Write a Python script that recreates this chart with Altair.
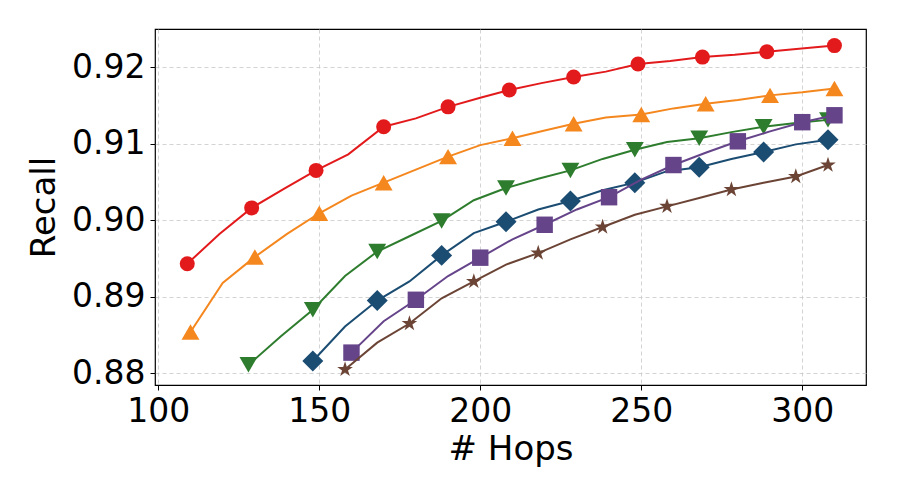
import altair as alt
import pandas as pd

# ---- data ----
names = ["S1", "S2", "S3", "S4", "S5", "S6"]
colors = ["#E31A1C", "#F5871F", "#2E7D2E", "#1B4C72", "#65448A", "#6B4436"]

star = ("M0,-1L0.2233,-0.3074L0.9511,-0.309L0.3614,0.1174L0.5878,0.809L0,0.38"
        "L-0.5878,0.809L-0.3614,0.1174L-0.9511,-0.309L-0.2233,-0.3074Z")
shapes = ["circle", "triangle-up", "triangle-down", "diamond", "square", star]
sizes = [225, 320, 320, 440, 270, 270]

hops_s1 = [109, 119, 129, 139, 149, 159, 170, 180, 190, 200, 209, 219, 229, 239, 249, 259, 269, 279, 289, 299, 310]
rec_s1 = [0.8943, 0.8982, 0.9016, 0.9041, 0.9065, 0.9086, 0.9122, 0.9133, 0.9148, 0.9160, 0.9170,
          0.9179, 0.9187, 0.9194, 0.9204, 0.9208, 0.9213, 0.9216, 0.9220, 0.9224, 0.9228]

hops_s2 = [110, 120, 130, 140, 150, 160, 170, 180, 190, 200, 210, 220, 229, 239, 250, 260, 270, 280, 290, 300, 310]
rec_s2 = [0.8854, 0.8918, 0.8952, 0.8982, 0.9009, 0.9032, 0.9049, 0.9066, 0.9083, 0.9098, 0.9107,
          0.9117, 0.9126, 0.9134, 0.9138, 0.9146, 0.9152, 0.9157, 0.9163, 0.9167, 0.9172]

hops_s3 = [128, 138, 148, 158, 168, 178, 188, 198, 208, 218, 228, 238, 248, 258, 268, 278, 288, 298, 308]
rec_s3 = [0.8811, 0.8848, 0.8883, 0.8927, 0.8959, 0.8979, 0.8999, 0.9026, 0.9042, 0.9054, 0.9065,
          0.9080, 0.9092, 0.9102, 0.9107, 0.9115, 0.9122, 0.9127, 0.9131]

hops_s4 = [148, 158, 168, 178, 188, 198, 208, 218, 228, 238, 248, 258, 268, 278, 288, 298, 308]
rec_s4 = [0.8816, 0.8861, 0.8895, 0.8920, 0.8954, 0.8983, 0.8998, 0.9014, 0.9025, 0.9039, 0.9049,
          0.9064, 0.9069, 0.9080, 0.9089, 0.9099, 0.9105]

hops_s5 = [160, 170, 180, 190, 200, 210, 220, 230, 240, 250, 260, 270, 280, 290, 300, 310]
rec_s5 = [0.8827, 0.8868, 0.8896, 0.8927, 0.8951, 0.8975, 0.8994, 0.9014, 0.9030, 0.9053, 0.9072,
          0.9088, 0.9103, 0.9116, 0.9128, 0.9137]

hops_s6 = [158, 168, 178, 188, 198, 208, 218, 228, 238, 248, 258, 268, 278, 288, 298, 308]
rec_s6 = [0.8805, 0.8840, 0.8865, 0.8898, 0.8920, 0.8942, 0.8957, 0.8975, 0.8991, 0.9007, 0.9018,
          0.9029, 0.9040, 0.9049, 0.9057, 0.9072]

x_ticks = [100, 150, 200, 250, 300]
y_ticks = [0.88, 0.89, 0.90, 0.91, 0.92]

all_hops = [hops_s1, hops_s2, hops_s3, hops_s4, hops_s5, hops_s6]
all_rec = [rec_s1, rec_s2, rec_s3, rec_s4, rec_s5, rec_s6]

rows = []
for name, hs, rs in zip(names, all_hops, all_rec):
    n = len(hs)
    for i, (h, r) in enumerate(zip(hs, rs)):
        rows.append({"series": name, "hops": h, "recall": r,
                     "marker": (i % 2 == 0) or (i == n - 1), "order": i})
df = pd.DataFrame(rows)

FONT = "DejaVu Sans"

x_enc = alt.X("hops:Q",
              scale=alt.Scale(domain=[98.98, 319.8], nice=False, zero=False),
              axis=alt.Axis(values=x_ticks, format="d", title="# Hops",
                            titleY=64, titleBaseline="middle"))
y_enc = alt.Y("recall:Q",
              scale=alt.Scale(domain=[0.87847, 0.92497], nice=False, zero=False),
              axis=alt.Axis(values=y_ticks, format=".2f", title="Recall",
                            titleX=-111, titleY=178, titleBaseline="middle", titleAngle=-90))
color_enc = alt.Color("series:N", scale=alt.Scale(domain=names, range=colors), legend=None)
shape_enc = alt.Shape("series:N", scale=alt.Scale(domain=names, range=shapes), legend=None)

base = alt.Chart(df)
layers = []
for name, sz in zip(names, sizes):
    line = base.transform_filter(alt.datum.series == name).mark_line(
        strokeWidth=2, clip=True
    ).encode(x=x_enc, y=y_enc, color=color_enc, order="order:Q")
    pts = base.transform_filter(
        (alt.datum.series == name) & alt.datum.marker
    ).mark_point(filled=True, opacity=1, size=sz, strokeWidth=0).encode(
        x=x_enc, y=y_enc, color=color_enc, shape=shape_enc
    )
    layers += [line, pts]

chart = alt.layer(*layers).properties(
    width=711, height=356,
    autosize=alt.AutoSizeParams(type="none"),
    padding={"left": 147, "top": 21, "right": 20, "bottom": 95},
    background="white",
).configure_view(
    stroke="black", strokeWidth=1.2
).configure_axis(
    domain=False,
    grid=True, gridColor="#c8c8c8", gridDash=[4, 3], gridWidth=0.8,
    ticks=True, tickColor="black", tickSize=5, tickWidth=1,
    labelFont=FONT, labelFontSize=33, labelColor="black", labelPadding=5,
    titleFont=FONT, titleFontSize=34, titleColor="black", titleFontWeight="normal",
)

chart.save("out.html", embed_options={"renderer": "svg", "actions": False})
